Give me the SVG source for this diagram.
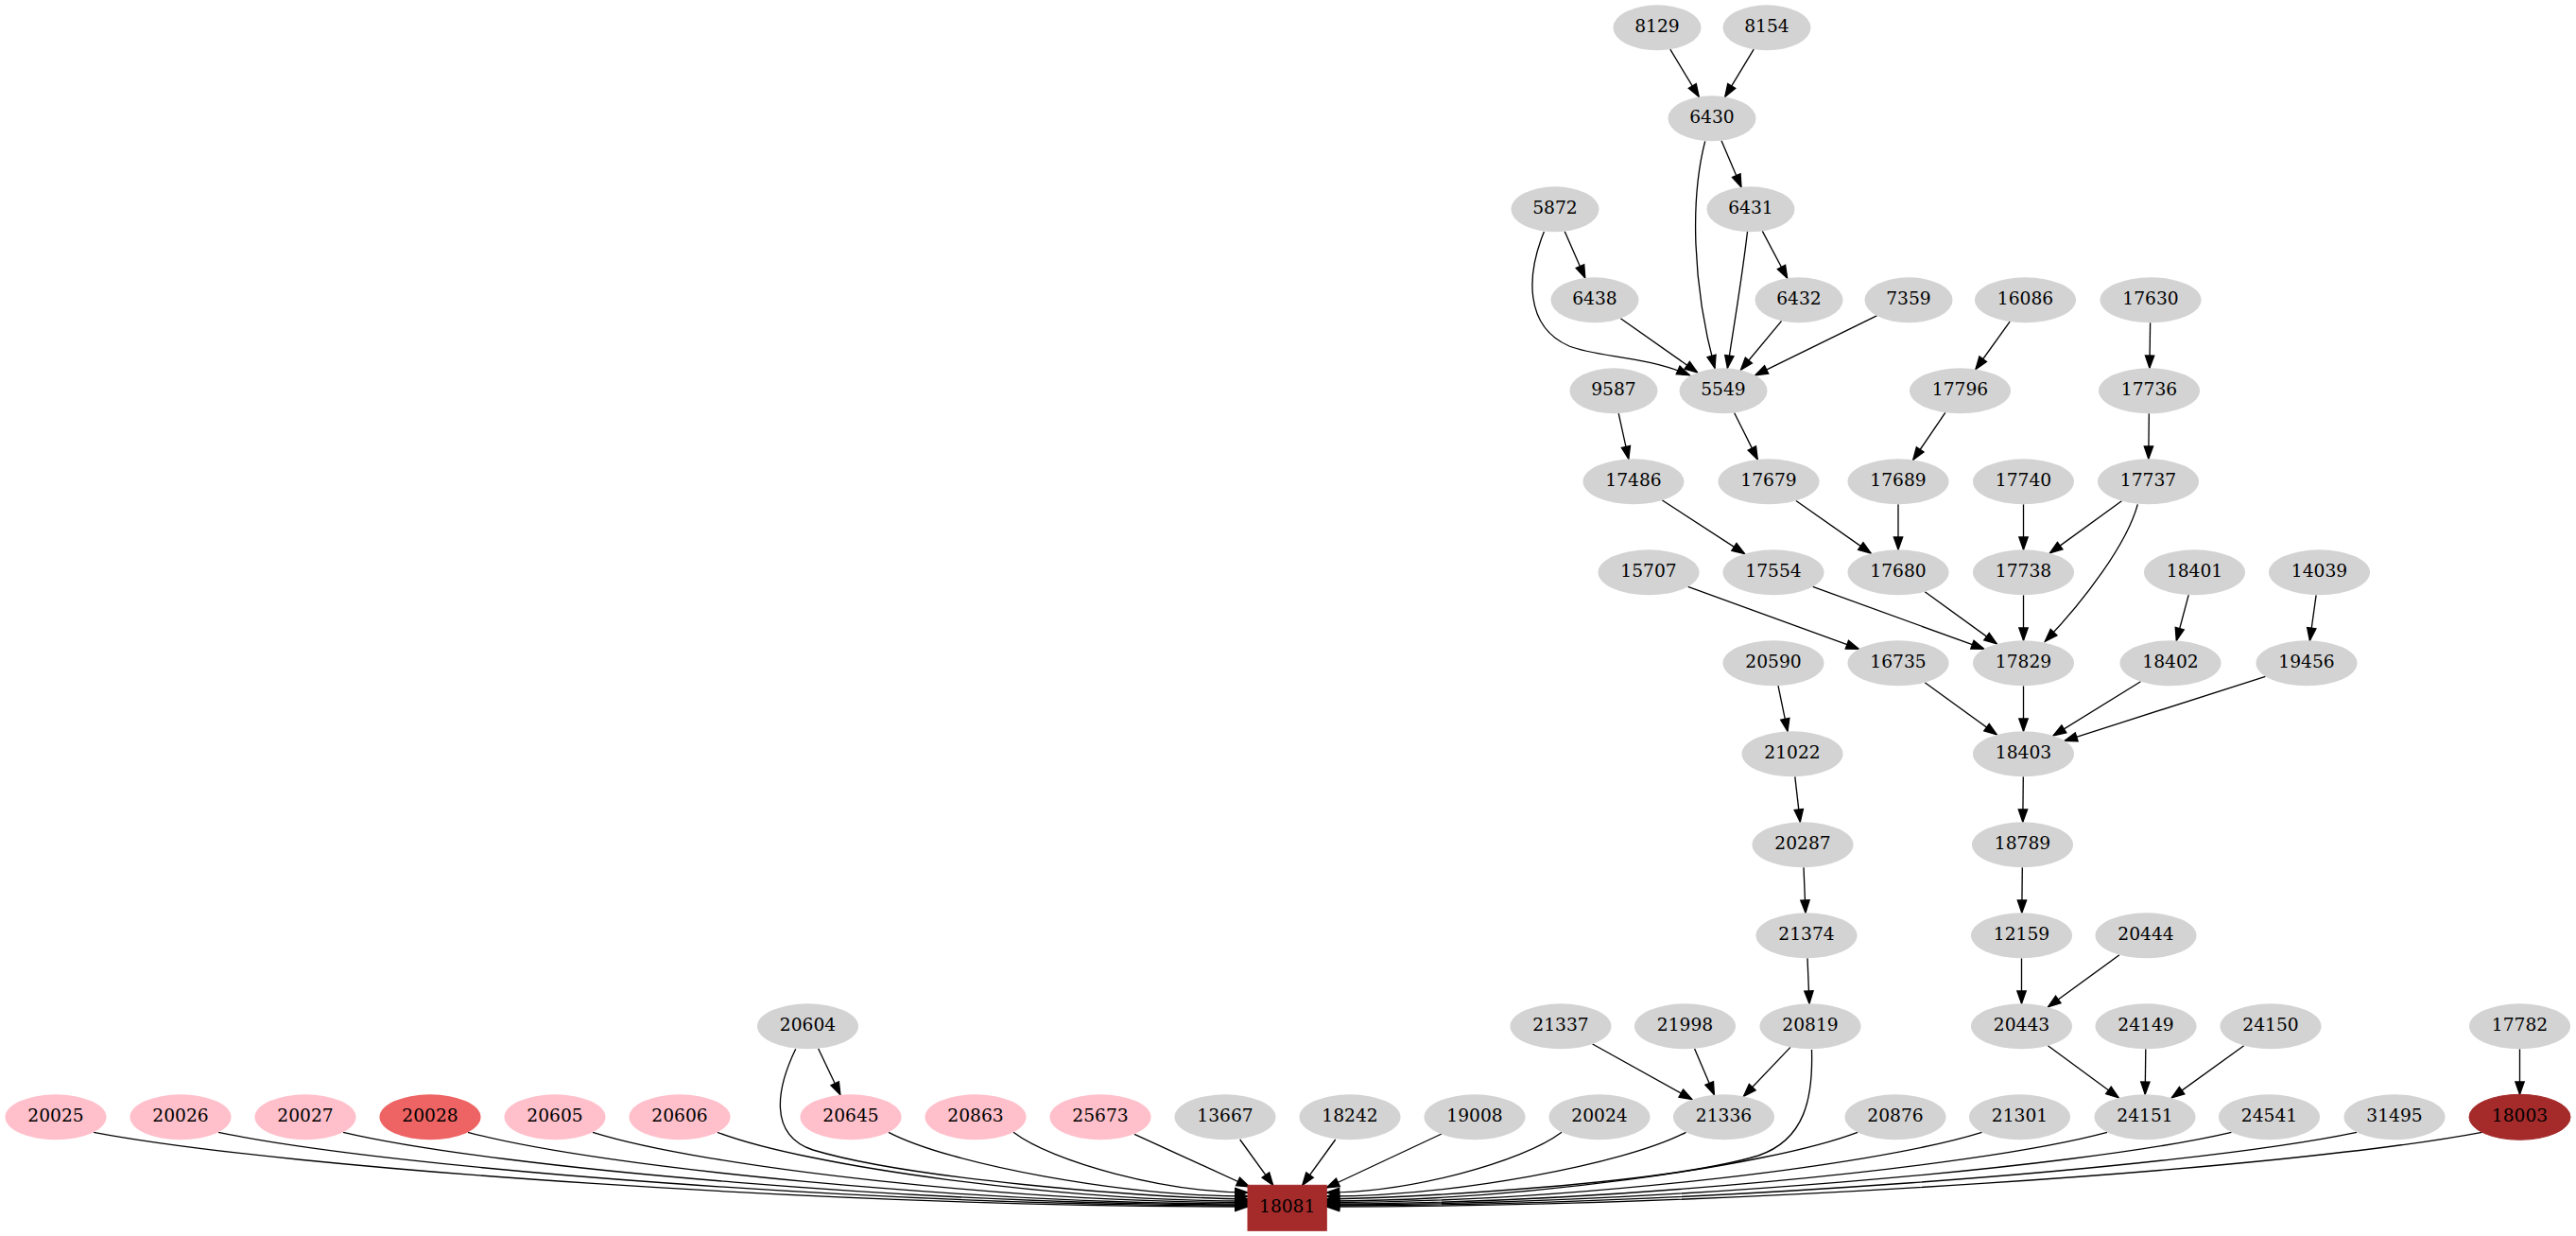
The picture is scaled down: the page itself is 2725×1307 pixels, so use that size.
<svg xmlns="http://www.w3.org/2000/svg" width="2725" height="1307" viewBox="0 0 2725 1307">
<defs>
<marker id="ah" markerUnits="userSpaceOnUse" markerWidth="16" markerHeight="12" viewBox="-1 -6 16 12" refX="13.33" refY="0" orient="auto" overflow="visible"><path d="M0,-4.67 L13.33,0 L0,4.67 Z" fill="#000" stroke="#000" stroke-width="1.33"/></marker>
</defs>
<style>
.g{fill:#d3d3d3}
.p{fill:#ffc0cb}
.r{fill:#ee6363}
.b{fill:#a52a2a;stroke:#a52a2a}
text{font-family:"DejaVu Serif","Liberation Serif",serif;font-size:18.67px;text-anchor:middle;fill:#000}
#edges path{fill:none;stroke:#000;stroke-width:1.33;marker-end:url(#ah)}
</style>
<rect width="2725" height="1307" fill="#fff"/>
<g id="edges">
<path d="M1766.8,52.2 L1797.2,102.4"/>
<path d="M1855.2,52.2 L1824.8,102.4"/>
<path d="M1821,148.7 L1842,197.9"/>
<path d="M1803.7,149.3 C1788,210 1790,300 1814,389.3"/>
<path d="M1655.2,244.7 L1676.8,293.9"/>
<path d="M1864.3,244.4 L1890.7,294.2"/>
<path d="M1633.4,245 C1615,290 1612,345 1660,366 C1690,378 1740,376 1787.3,396.7"/>
<path d="M1848.5,245 C1842,300 1834,345 1827.4,389.3"/>
<path d="M1714.4,336.7 L1795.6,393.9"/>
<path d="M1884.6,339.4 L1841.4,391.3"/>
<path d="M1985.3,333.8 L1856.7,396.8"/>
<path d="M2126.1,340.1 L2089.9,390.5"/>
<path d="M2274.6,341.3 L2273.9,389.3"/>
<path d="M1712.2,437.2 L1722.8,485.4"/>
<path d="M1834.6,436.5 L1859.3,485.9"/>
<path d="M2057.8,436.3 L2023.7,486.4"/>
<path d="M2273.3,437.3 L2272.8,485.3"/>
<path d="M1758.4,529 L1845.6,585.6"/>
<path d="M1899.9,529.5 L1979.2,585.1"/>
<path d="M2008,533.3 L2008,581.3"/>
<path d="M2140.5,533.3 L2140.5,581.3"/>
<path d="M2244.4,529.7 L2168.4,584.9"/>
<path d="M2261.3,533.3 C2250,575 2205,635 2163.3,678.3"/>
<path d="M1785.6,620.4 L1966.4,686.2"/>
<path d="M1917.6,620.4 L2098.9,686.2"/>
<path d="M2036.2,625.7 L2112.3,680.9"/>
<path d="M2140.5,629.3 L2140.5,677.3"/>
<path d="M2315.2,629.1 L2302.3,677.5"/>
<path d="M2450.1,629.3 L2443.4,677.4"/>
<path d="M2036.2,721.7 L2112.3,776.9"/>
<path d="M2140.5,725.3 L2140.5,773.3"/>
<path d="M2264.5,720.7 L2172,777.9"/>
<path d="M2396.5,715.3 L2184,783.4"/>
<path d="M1881,725.2 L1891,773.4"/>
<path d="M1898.8,821.3 L1904.3,869.3"/>
<path d="M2140.3,821.3 L2139.8,869.3"/>
<path d="M1908,917.3 L1910,965.3"/>
<path d="M2139.3,917.3 L2138.8,965.3"/>
<path d="M1912,1013.3 L1914,1061.3"/>
<path d="M2138.5,1013.3 L2138.5,1061.3"/>
<path d="M2242,1009.8 L2166.5,1064.8"/>
<path d="M865.6,1108.8 L888.9,1157.8"/>
<path d="M1684.6,1104 L1789.9,1162.6"/>
<path d="M1792.6,1108.9 L1813.4,1157.7"/>
<path d="M1894,1107.4 L1844.5,1159.2"/>
<path d="M2166.4,1105.8 L2241.2,1160.8"/>
<path d="M2269.8,1109.3 L2269.2,1157.3"/>
<path d="M2373.7,1105.7 L2297.3,1160.9"/>
<path d="M2665.5,1109.3 L2665.5,1157.3"/>
<path d="M841.7,1109.3 C822,1150 812,1200 860,1216 C960,1246 1200,1266 1320,1268"/>
<path d="M1916.5,1110 C1918,1160 1910,1205 1860,1222 C1760,1252 1500,1266 1403.3,1268"/>
<path d="M99,1197.3 C306.6,1236.7 892.6,1276 1320,1276"/>
<path d="M231,1197.3 C416.1,1236.2 938.9,1275 1320,1275"/>
<path d="M363,1197.3 C525.7,1235.7 985,1274 1320,1274"/>
<path d="M495,1197.3 C635.3,1235.2 1031.3,1273 1320,1273"/>
<path d="M627,1197.3 C744.8,1234.4 1077.5,1271.5 1320,1271.5"/>
<path d="M759,1197.3 C854.4,1233.7 1123.7,1270 1320,1270"/>
<path d="M940,1197.3 C1004.6,1231.2 1187,1265 1320,1265"/>
<path d="M1072,1197.3 C1114.2,1229.2 1233.2,1261 1320,1261"/>
<path d="M1200,1199.3 L1321.7,1255"/>
<path d="M1311.7,1205 L1346.7,1253.3"/>
<path d="M1412.7,1205 L1377.7,1253.3"/>
<path d="M1525,1199 L1403.3,1256"/>
<path d="M1652,1197.3 C1609.7,1229.2 1490.3,1261 1403.3,1261"/>
<path d="M1783.5,1197.3 C1718.9,1231.2 1536.4,1265 1403.3,1265"/>
<path d="M1965,1197.3 C1869.5,1233.7 1599.9,1270 1403.3,1270"/>
<path d="M2096.5,1197.3 C1978.7,1234.4 1645.9,1271.5 1403.3,1271.5"/>
<path d="M2229,1197.3 C2088.6,1235.2 1692.3,1273 1403.3,1273"/>
<path d="M2360.5,1197.3 C2197.8,1235.7 1738.3,1274 1403.3,1274"/>
<path d="M2493,1197.3 C2307.7,1236.2 1784.7,1275 1403.3,1275"/>
<path d="M2625.5,1197.3 C2417.7,1236.7 1831.1,1276 1403.3,1276"/>
</g>
<g id="n8129"><ellipse class="g" cx="1753" cy="29.3" rx="46.5" ry="24"/><text x="1753" y="34.3">8129</text></g>
<g id="n8154"><ellipse class="g" cx="1869" cy="29.3" rx="46.5" ry="24"/><text x="1869" y="34.3">8154</text></g>
<g id="n6430"><ellipse class="g" cx="1811" cy="125.3" rx="46.5" ry="24"/><text x="1811" y="130.3">6430</text></g>
<g id="n5872"><ellipse class="g" cx="1645" cy="221.3" rx="46.5" ry="24"/><text x="1645" y="226.3">5872</text></g>
<g id="n6431"><ellipse class="g" cx="1852" cy="221.3" rx="46.5" ry="24"/><text x="1852" y="226.3">6431</text></g>
<g id="n6438"><ellipse class="g" cx="1687" cy="317.3" rx="46.5" ry="24"/><text x="1687" y="322.3">6438</text></g>
<g id="n6432"><ellipse class="g" cx="1903" cy="317.3" rx="46.5" ry="24"/><text x="1903" y="322.3">6432</text></g>
<g id="n7359"><ellipse class="g" cx="2019" cy="317.3" rx="46.5" ry="24"/><text x="2019" y="322.3">7359</text></g>
<g id="n16086"><ellipse class="g" cx="2142.5" cy="317.3" rx="53.5" ry="24"/><text x="2142.5" y="322.3">16086</text></g>
<g id="n17630"><ellipse class="g" cx="2275" cy="317.3" rx="53.5" ry="24"/><text x="2275" y="322.3">17630</text></g>
<g id="n9587"><ellipse class="g" cx="1707" cy="413.3" rx="46.5" ry="24"/><text x="1707" y="418.3">9587</text></g>
<g id="n5549"><ellipse class="g" cx="1823" cy="413.3" rx="46.5" ry="24"/><text x="1823" y="418.3">5549</text></g>
<g id="n17796"><ellipse class="g" cx="2073.5" cy="413.3" rx="53.5" ry="24"/><text x="2073.5" y="418.3">17796</text></g>
<g id="n17736"><ellipse class="g" cx="2273.5" cy="413.3" rx="53.5" ry="24"/><text x="2273.5" y="418.3">17736</text></g>
<g id="n17486"><ellipse class="g" cx="1728" cy="509.3" rx="53.5" ry="24"/><text x="1728" y="514.3">17486</text></g>
<g id="n17679"><ellipse class="g" cx="1871" cy="509.3" rx="53.5" ry="24"/><text x="1871" y="514.3">17679</text></g>
<g id="n17689"><ellipse class="g" cx="2008" cy="509.3" rx="53.5" ry="24"/><text x="2008" y="514.3">17689</text></g>
<g id="n17740"><ellipse class="g" cx="2140.5" cy="509.3" rx="53.5" ry="24"/><text x="2140.5" y="514.3">17740</text></g>
<g id="n17737"><ellipse class="g" cx="2272.5" cy="509.3" rx="53.5" ry="24"/><text x="2272.5" y="514.3">17737</text></g>
<g id="n15707"><ellipse class="g" cx="1744" cy="605.3" rx="53.5" ry="24"/><text x="1744" y="610.3">15707</text></g>
<g id="n17554"><ellipse class="g" cx="1876" cy="605.3" rx="53.5" ry="24"/><text x="1876" y="610.3">17554</text></g>
<g id="n17680"><ellipse class="g" cx="2008" cy="605.3" rx="53.5" ry="24"/><text x="2008" y="610.3">17680</text></g>
<g id="n17738"><ellipse class="g" cx="2140.5" cy="605.3" rx="53.5" ry="24"/><text x="2140.5" y="610.3">17738</text></g>
<g id="n18401"><ellipse class="g" cx="2321.5" cy="605.3" rx="53.5" ry="24"/><text x="2321.5" y="610.3">18401</text></g>
<g id="n14039"><ellipse class="g" cx="2453.5" cy="605.3" rx="53.5" ry="24"/><text x="2453.5" y="610.3">14039</text></g>
<g id="n20590"><ellipse class="g" cx="1876" cy="701.3" rx="53.5" ry="24"/><text x="1876" y="706.3">20590</text></g>
<g id="n16735"><ellipse class="g" cx="2008" cy="701.3" rx="53.5" ry="24"/><text x="2008" y="706.3">16735</text></g>
<g id="n17829"><ellipse class="g" cx="2140.5" cy="701.3" rx="53.5" ry="24"/><text x="2140.5" y="706.3">17829</text></g>
<g id="n18402"><ellipse class="g" cx="2296" cy="701.3" rx="53.5" ry="24"/><text x="2296" y="706.3">18402</text></g>
<g id="n19456"><ellipse class="g" cx="2440" cy="701.3" rx="53.5" ry="24"/><text x="2440" y="706.3">19456</text></g>
<g id="n21022"><ellipse class="g" cx="1896" cy="797.3" rx="53.5" ry="24"/><text x="1896" y="802.3">21022</text></g>
<g id="n18403"><ellipse class="g" cx="2140.5" cy="797.3" rx="53.5" ry="24"/><text x="2140.5" y="802.3">18403</text></g>
<g id="n20287"><ellipse class="g" cx="1907" cy="893.3" rx="53.5" ry="24"/><text x="1907" y="898.3">20287</text></g>
<g id="n18789"><ellipse class="g" cx="2139.5" cy="893.3" rx="53.5" ry="24"/><text x="2139.5" y="898.3">18789</text></g>
<g id="n21374"><ellipse class="g" cx="1911" cy="989.3" rx="53.5" ry="24"/><text x="1911" y="994.3">21374</text></g>
<g id="n12159"><ellipse class="g" cx="2138.5" cy="989.3" rx="53.5" ry="24"/><text x="2138.5" y="994.3">12159</text></g>
<g id="n20444"><ellipse class="g" cx="2270" cy="989.3" rx="53.5" ry="24"/><text x="2270" y="994.3">20444</text></g>
<g id="n20604"><ellipse class="g" cx="854.5" cy="1085.3" rx="53.5" ry="24"/><text x="854.5" y="1090.3">20604</text></g>
<g id="n21337"><ellipse class="g" cx="1651" cy="1085.3" rx="53.5" ry="24"/><text x="1651" y="1090.3">21337</text></g>
<g id="n21998"><ellipse class="g" cx="1782.5" cy="1085.3" rx="53.5" ry="24"/><text x="1782.5" y="1090.3">21998</text></g>
<g id="n20819"><ellipse class="g" cx="1915" cy="1085.3" rx="53.5" ry="24"/><text x="1915" y="1090.3">20819</text></g>
<g id="n20443"><ellipse class="g" cx="2138.5" cy="1085.3" rx="53.5" ry="24"/><text x="2138.5" y="1090.3">20443</text></g>
<g id="n24149"><ellipse class="g" cx="2270" cy="1085.3" rx="53.5" ry="24"/><text x="2270" y="1090.3">24149</text></g>
<g id="n24150"><ellipse class="g" cx="2402" cy="1085.3" rx="53.5" ry="24"/><text x="2402" y="1090.3">24150</text></g>
<g id="n17782"><ellipse class="g" cx="2665.5" cy="1085.3" rx="53.5" ry="24"/><text x="2665.5" y="1090.3">17782</text></g>
<g id="n20025"><ellipse class="p" cx="59" cy="1181.3" rx="53.5" ry="24"/><text x="59" y="1186.3">20025</text></g>
<g id="n20026"><ellipse class="p" cx="191" cy="1181.3" rx="53.5" ry="24"/><text x="191" y="1186.3">20026</text></g>
<g id="n20027"><ellipse class="p" cx="323" cy="1181.3" rx="53.5" ry="24"/><text x="323" y="1186.3">20027</text></g>
<g id="n20028"><ellipse class="r" cx="455" cy="1181.3" rx="53.5" ry="24"/><text x="455" y="1186.3">20028</text></g>
<g id="n20605"><ellipse class="p" cx="587" cy="1181.3" rx="53.5" ry="24"/><text x="587" y="1186.3">20605</text></g>
<g id="n20606"><ellipse class="p" cx="719" cy="1181.3" rx="53.5" ry="24"/><text x="719" y="1186.3">20606</text></g>
<g id="n20645"><ellipse class="p" cx="900" cy="1181.3" rx="53.5" ry="24"/><text x="900" y="1186.3">20645</text></g>
<g id="n20863"><ellipse class="p" cx="1032" cy="1181.3" rx="53.5" ry="24"/><text x="1032" y="1186.3">20863</text></g>
<g id="n25673"><ellipse class="p" cx="1164" cy="1181.3" rx="53.5" ry="24"/><text x="1164" y="1186.3">25673</text></g>
<g id="n13667"><ellipse class="g" cx="1296" cy="1181.3" rx="53.5" ry="24"/><text x="1296" y="1186.3">13667</text></g>
<g id="n18242"><ellipse class="g" cx="1428" cy="1181.3" rx="53.5" ry="24"/><text x="1428" y="1186.3">18242</text></g>
<g id="n19008"><ellipse class="g" cx="1560" cy="1181.3" rx="53.5" ry="24"/><text x="1560" y="1186.3">19008</text></g>
<g id="n20024"><ellipse class="g" cx="1692" cy="1181.3" rx="53.5" ry="24"/><text x="1692" y="1186.3">20024</text></g>
<g id="n21336"><ellipse class="g" cx="1823.5" cy="1181.3" rx="53.5" ry="24"/><text x="1823.5" y="1186.3">21336</text></g>
<g id="n20876"><ellipse class="g" cx="2005" cy="1181.3" rx="53.5" ry="24"/><text x="2005" y="1186.3">20876</text></g>
<g id="n21301"><ellipse class="g" cx="2136.5" cy="1181.3" rx="53.5" ry="24"/><text x="2136.5" y="1186.3">21301</text></g>
<g id="n24151"><ellipse class="g" cx="2269" cy="1181.3" rx="53.5" ry="24"/><text x="2269" y="1186.3">24151</text></g>
<g id="n24541"><ellipse class="g" cx="2400.5" cy="1181.3" rx="53.5" ry="24"/><text x="2400.5" y="1186.3">24541</text></g>
<g id="n31495"><ellipse class="g" cx="2533" cy="1181.3" rx="53.5" ry="24"/><text x="2533" y="1186.3">31495</text></g>
<g id="n18003"><ellipse class="b" cx="2665.5" cy="1181.3" rx="53.5" ry="24"/><text x="2665.5" y="1186.3">18003</text></g>
<g id="n18081"><rect class="b" x="1320" y="1253.3" width="83.3" height="48"/><text x="1361.7" y="1282.3">18081</text></g>
</svg>
